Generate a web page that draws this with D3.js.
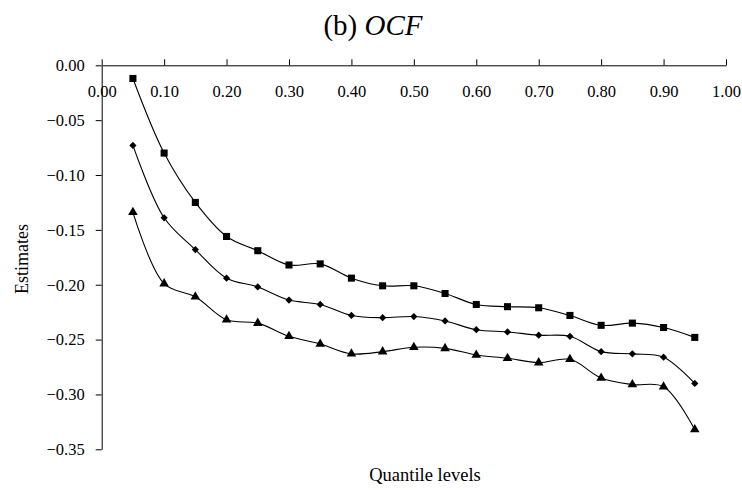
<!DOCTYPE html>
<html><head><meta charset="utf-8">
<script src="https://cdn.jsdelivr.net/npm/d3@7/dist/d3.min.js"></script>
<style>body{margin:0;background:#fff;} svg{display:block;} text{font-family:"Liberation Serif","Times New Roman",serif;fill:#000;}</style>
</head><body>
<svg id="c" width="742" height="490"></svg>
<script>
const quantiles = [0.05,0.10,0.15,0.20,0.25,0.30,0.35,0.40,0.45,0.50,0.55,0.60,0.65,0.70,0.75,0.80,0.85,0.90,0.95];
const seriesSquare = [-0.012,-0.080,-0.125,-0.156,-0.169,-0.182,-0.181,-0.194,-0.201,-0.201,-0.208,-0.218,-0.220,-0.221,-0.228,-0.237,-0.235,-0.239,-0.248];
const seriesDiamond = [-0.073,-0.139,-0.168,-0.194,-0.202,-0.214,-0.218,-0.228,-0.230,-0.229,-0.233,-0.241,-0.243,-0.246,-0.247,-0.261,-0.263,-0.266,-0.290];
const seriesTriangle = [-0.134,-0.199,-0.211,-0.232,-0.235,-0.247,-0.254,-0.263,-0.261,-0.257,-0.258,-0.264,-0.267,-0.271,-0.268,-0.285,-0.291,-0.293,-0.332];
const xTicks = [0,0.1,0.2,0.3,0.4,0.5,0.6,0.7,0.8,0.9,1.0];
const yTicks = [0,-0.05,-0.10,-0.15,-0.20,-0.25,-0.30,-0.35];
const titleText = "(b) ";
const titleItalic = "OCF";
const xLabel = "Quantile levels";
const yLabel = "Estimates";

const svg = d3.select("#c");
const x = d3.scaleLinear().domain([0,1]).range([101.7,726]);
const y = d3.scaleLinear().domain([0,-0.35]).range([65.3,449.3]);

// title
const t = svg.append("text").attr("x",373).attr("y",35).attr("text-anchor","middle").style("font-size","29px");
t.append("tspan").text(titleText);
t.append("tspan").style("font-style","italic").text(titleItalic);

// y axis
const yAxis = d3.axisLeft(y).tickValues(yTicks).tickFormat(d3.format(".2f")).tickSize(6).tickSizeOuter(0);
const gy = svg.append("g").attr("transform",`translate(${x(0)},0)`).call(yAxis);
gy.selectAll("text").style("font-size","16.5px").attr("x",-17);
gy.select(".domain").attr("stroke","#000");

// x axis at top (y=0), ticks upward, labels below
const xAxis = d3.axisTop(x).tickValues(xTicks).tickFormat(d3.format(".2f")).tickSize(6).tickSizeOuter(0);
const gx = svg.append("g").attr("transform",`translate(0,${y(0)})`).call(xAxis);
gx.selectAll("text").style("font-size","16.5px").attr("y",0).attr("dy","32px");
gx.select(".domain").attr("stroke","#000");

// axis labels
svg.append("text").attr("x",425).attr("y",481).attr("text-anchor","middle").style("font-size","18.5px").text(xLabel);
svg.append("text").attr("transform","translate(28,259) rotate(-90)").attr("text-anchor","middle").style("font-size","18px").text(yLabel);

const line = d3.line().x((d,i)=>x(quantiles[i])).y(d=>y(d)).curve(d3.curveCatmullRom.alpha(0.5));
const diamondSym = {draw(ctx,size){const r=Math.sqrt(size/2);ctx.moveTo(0,-r);ctx.lineTo(r,0);ctx.lineTo(0,r);ctx.lineTo(-r,0);ctx.closePath();}};
const series = [
  {vals:seriesSquare, sym:d3.symbolSquare, size:50},
  {vals:seriesDiamond, sym:diamondSym, size:26},
  {vals:seriesTriangle, sym:d3.symbolTriangle, size:40}
];
series.forEach(s=>{
  svg.append("path").datum(s.vals).attr("d",line).attr("fill","none").attr("stroke","#000").attr("stroke-width",1.1);
  svg.append("g").selectAll("path").data(s.vals).join("path")
    .attr("transform",(d,i)=>`translate(${x(quantiles[i])},${y(d)})`)
    .attr("d",d3.symbol().type(s.sym).size(s.size)).attr("fill","#000");
});
</script>
</body></html>
